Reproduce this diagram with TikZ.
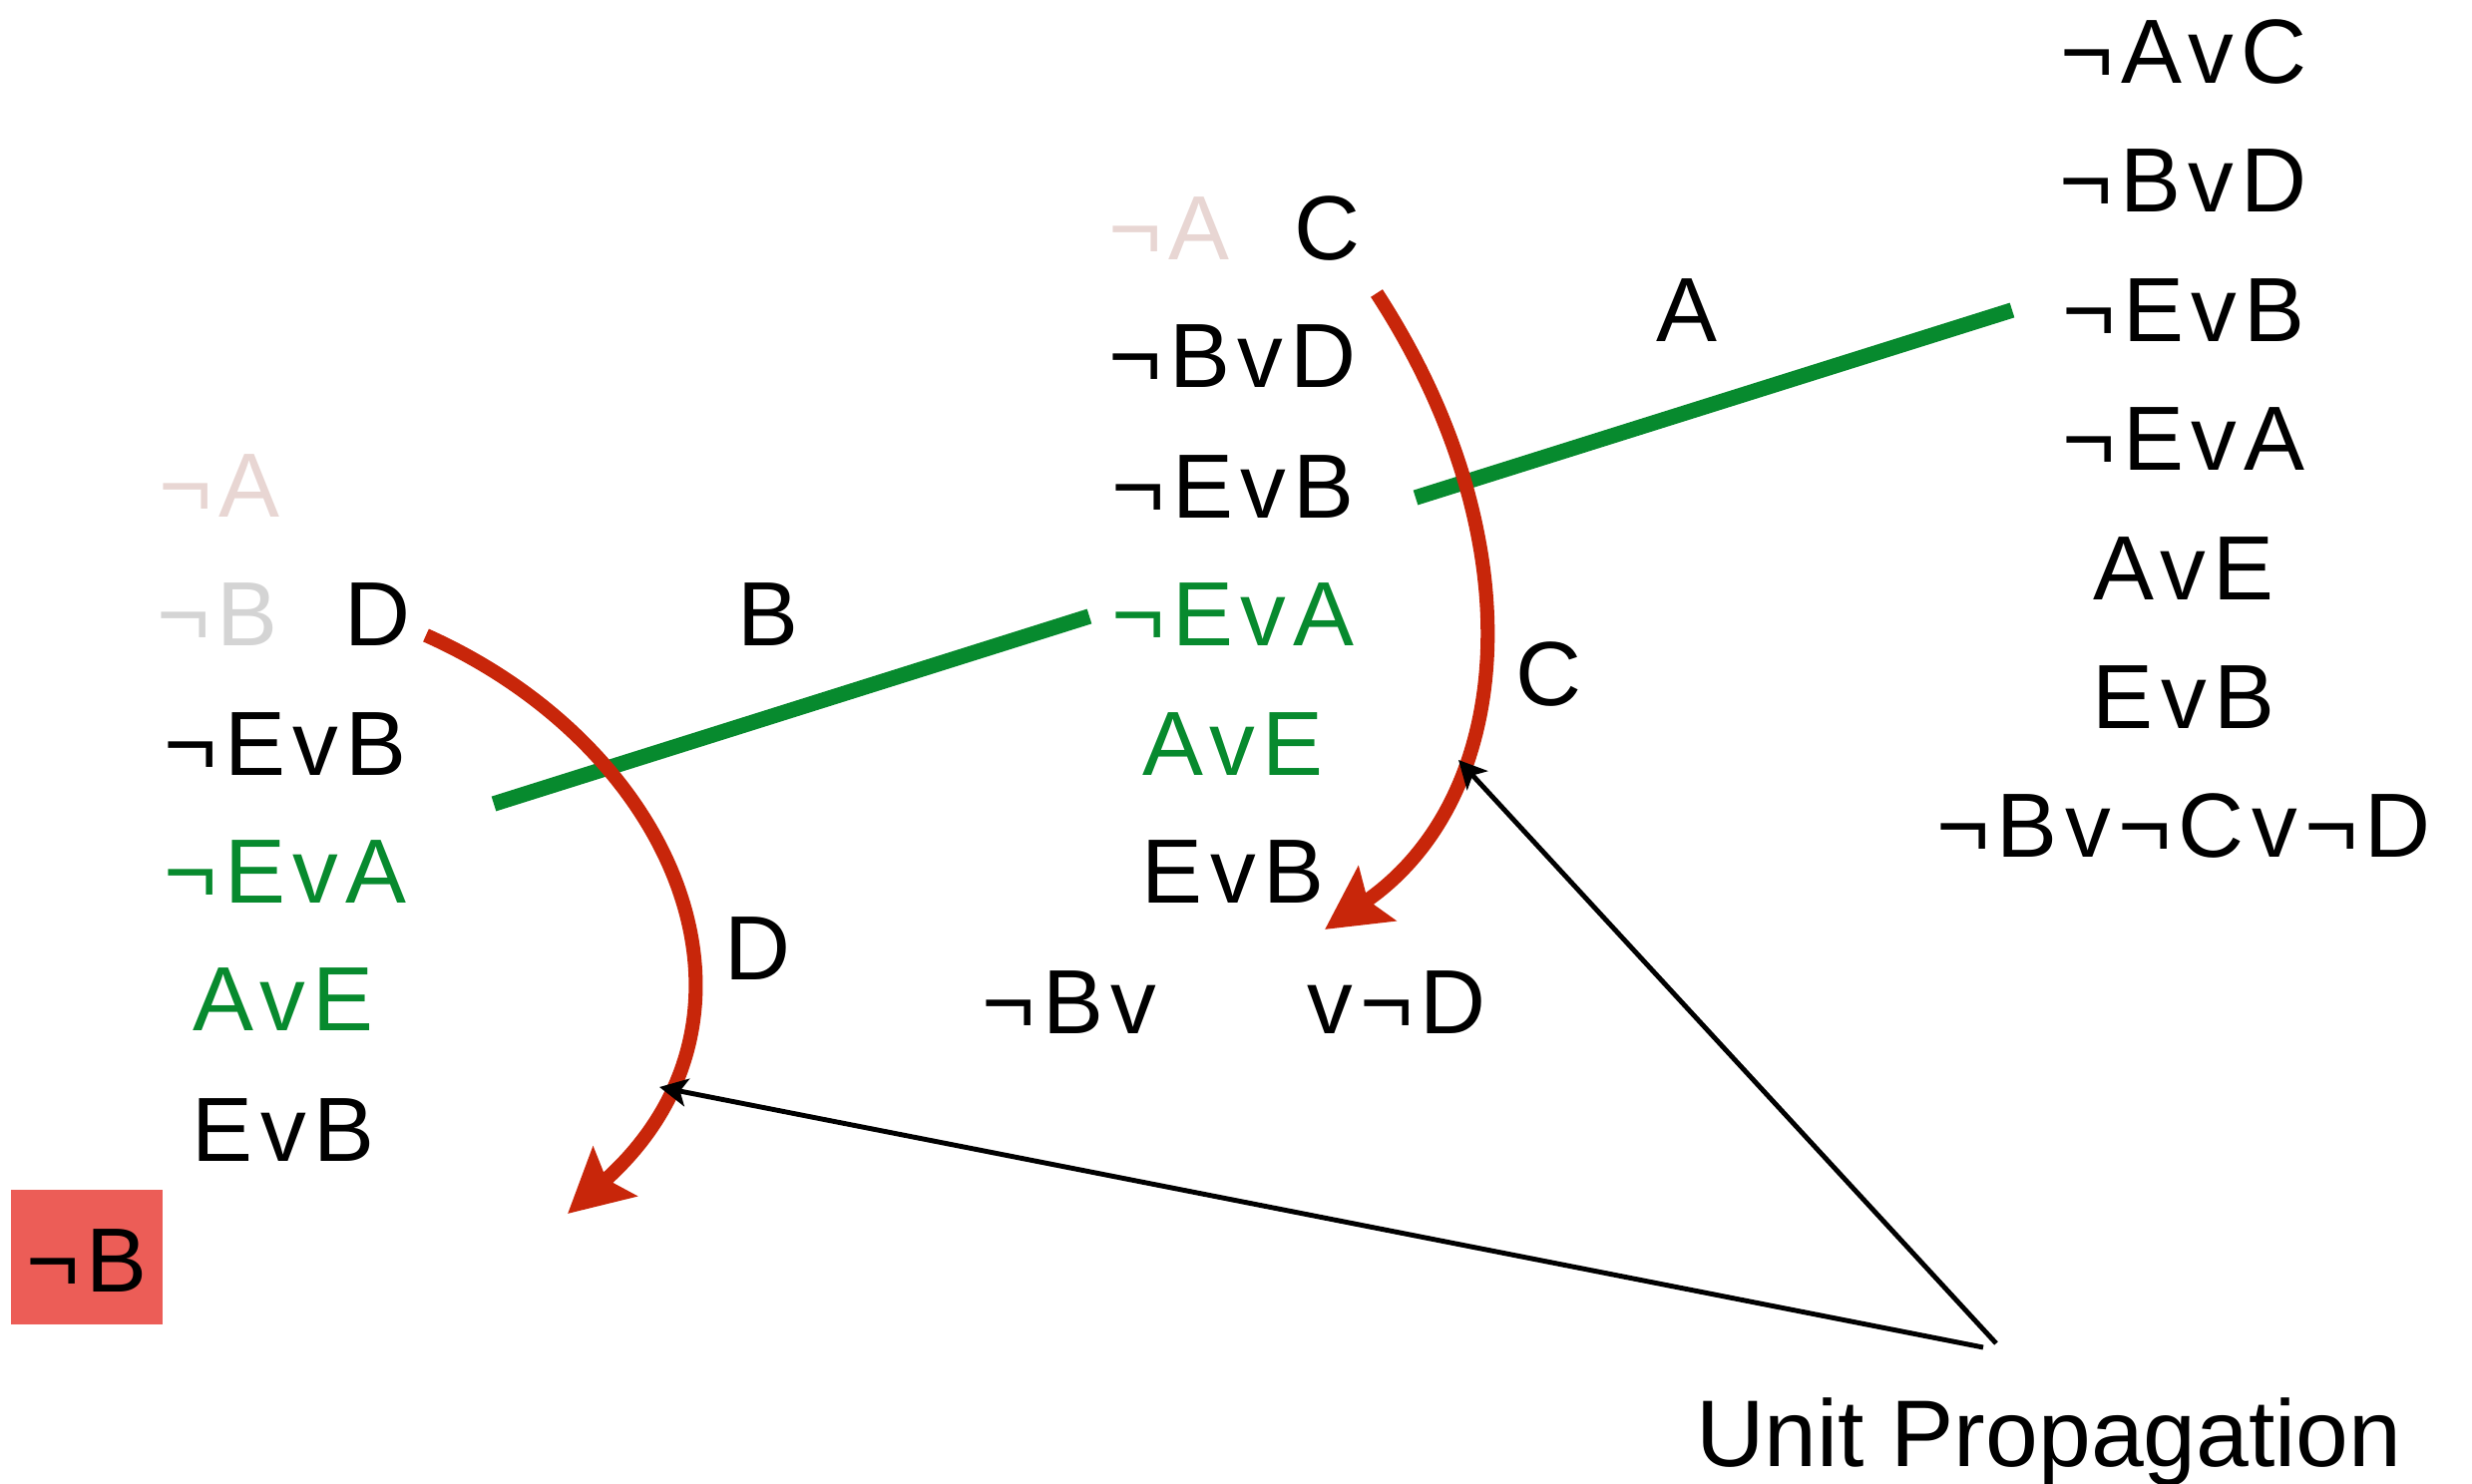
\documentclass[tikz,border=0pt]{standalone}
\usepackage{fontspec}
\setmainfont{Liberation Sans}[LetterSpace=8]
\newfontfamily\notefont{Liberation Sans}
\usepackage{tikz}
\usetikzlibrary{arrows.meta}
\definecolor{clgreen}{HTML}{078A2E}
\definecolor{clred}{HTML}{C8260A}
\definecolor{clpink}{HTML}{E8D6D3}
\definecolor{clgray}{HTML}{D4D4D4}
\definecolor{clbox}{HTML}{EC5D57}
\tikzstyle{clause}=[inner sep=0pt, font=\fontsize{26pt}{28pt}\selectfont]
\tikzstyle{unit}=[clause, text=clgreen]
\tikzstyle{faded}=[clause, text=clpink]
\tikzstyle{dropped}=[clause, text=clgray]
\tikzstyle{branch}=[draw=clgreen, line width=4.4pt]
\tikzstyle{conflict}=[draw=clred, line width=4pt, -{Stealth[length=6.3mm, width=6.5mm, inset=1.1mm]}]
\tikzstyle{pointer}=[draw=black, line width=1.4pt, -{Stealth[length=2.8mm, width=2.8mm, inset=0.7mm]}]

\begin{document}
\begin{tikzpicture}[x=0.01cm, y=-0.01cm]

\useasboundingbox (0,0) rectangle (2478,1488);

% Right column: the clause set
\foreach \cl [count=\i] in {¬AvC, ¬BvD, ¬EvB, ¬EvA, AvE, EvB, ¬Bv¬Cv¬D}
    \node[clause] (r\i) at (2189, {52+129.4*(\i-1)}) {\cl};

% Middle column: after A
\node[faded]  (m1a) at (1172, 229) {¬A};
\node[clause] (m1b) at (1331, 229) {C};
\node[clause] (m2) at (1236, 357) {¬BvD};
\node[clause] (m3) at (1236, 488) {¬EvB};
\node[unit]   (m4) at (1236, 616) {¬EvA};
\node[unit]   (m5) at (1236, 746) {AvE};
\node[clause] (m6) at (1236, 874) {EvB};
\node[clause] (m7a) at (1072, 1005) {¬Bv};
\node[clause] (m7b) at (1400, 1005) {v¬D};

% Left column: after B
\node[faded]   (l1) at (220, 487) {¬A};
\node[dropped] (l2a) at (218, 616) {¬B};
\node[clause]  (l2b) at (379, 616) {D};
\node[clause]  (l3) at (286, 746) {¬EvB};
\node[unit]    (l4) at (286, 874) {¬EvA};
\node[unit]    (l5) at (284, 1002) {AvE};
\node[clause]  (l6) at (284, 1133) {EvB};

% Empty clause
\fill[clbox] (11,1193) rectangle (163,1328);
\node[clause] (empty) at (87, 1264) {¬B};

% Decisions
\coordinate (ga1) at (1419, 499);
\coordinate (ga2) at (2017, 311);
\coordinate (gb1) at (495, 806);
\coordinate (gb2) at (1092, 618);
\draw[branch] (ga1) -- (ga2);
\draw[branch] (gb1) -- (gb2);
\node[clause] (labA) at (1691, 311) {A};
\node[clause] (labB) at (770, 616) {B};

% Propagation arrows
\coordinate (rc1) at (1380, 294);
\coordinate (rc2) at (1328, 932);
\coordinate (rd1) at (427, 637);
\coordinate (rd2) at (569, 1217);
\draw[conflict] (rc1) .. controls (1540,540) and (1520,800) .. (rc2);
\draw[conflict] (rd1) .. controls (680,750) and (790,1020) .. (rd2);
\node[clause] (labC) at (1552, 676) {C};
\node[clause] (labD) at (760, 951) {D};

% Unit Propagation
\node[inner sep=0pt, anchor=base, font=\notefont\fontsize{27pt}{29pt}\selectfont] (up) at (2054, 1470) {Unit Propagation};
\coordinate (p1) at (1988, 1351);
\coordinate (p2) at (2001, 1347);
\coordinate (t1) at (661, 1090);
\coordinate (t2) at (1462, 762);
\draw[pointer] (p1) -- (t1);
\draw[pointer] (p2) -- (t2);

\end{tikzpicture}
\end{document}
